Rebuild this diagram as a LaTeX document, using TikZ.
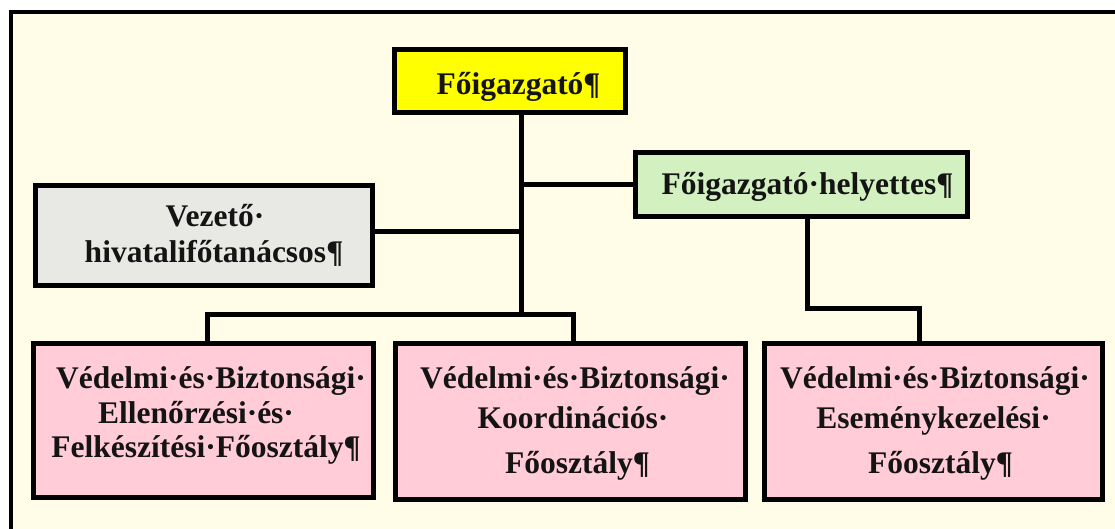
\documentclass[tikz,border=0pt]{standalone}
\usepackage{fontspec}
\setmainfont{Liberation Serif}
\definecolor{cream}{HTML}{FFFDE8}
\definecolor{yellowc}{HTML}{FFFF00}
\definecolor{greyc}{HTML}{E8E8E4}
\definecolor{greenc}{HTML}{D2F0C0}
\definecolor{pinkc}{HTML}{FFCCD8}
\definecolor{inkc}{HTML}{141414}
\tikzset{
  box/.style={draw=black, line width=5pt, line join=miter, inner sep=0pt},
  txt/.style={anchor=base, inner sep=0pt, text=inkc, font=\bfseries\fontsize{31.5}{35}\selectfont},
  conn/.style={draw=black, line width=5pt, line join=miter},
}
\begin{document}
\begin{tikzpicture}[x=1pt,y=-1pt]
\useasboundingbox (0,0) rectangle (1115,529);
\fill[white] (0,0) rectangle (1115,529);
\fill[cream] (11,12) rectangle (1125,540);
\draw[line width=4pt, line join=miter] (11,545) -- (11,12) -- (1125,12);

\node[box, fill=yellowc, minimum width=231pt, minimum height=63pt] (top) at (510,81) {};
\node[box, fill=greyc, minimum width=337pt, minimum height=100pt] (grey) at (204,235.5) {};
\node[box, fill=greenc, minimum width=332pt, minimum height=64pt] (green) at (801.5,184.5) {};
\node[box, fill=pinkc, minimum width=340pt, minimum height=154pt] (p1) at (203.5,420.5) {};
\node[box, fill=pinkc, minimum width=350pt, minimum height=156pt] (p2) at (570.5,421.5) {};
\node[box, fill=pinkc, minimum width=338pt, minimum height=156pt] (p3) at (933.5,421.5) {};

\node[txt] (topt) at (518.5,95) {Főigazgató¶};
\node[txt] (greent) at (807.5,195) {Főigazgató·helyettes¶};
\node[txt] (greya) at (215,227) {Vezető·};
\node[txt] (greyb) at (214,262) {hivatalifőtanácsos¶};
\node[txt] (p1a) at (211,388) {Védelmi·és·Biztonsági·};
\node[txt] (p1b) at (196,423) {Ellenőrzési·és·};
\node[txt] (p1c) at (206,457) {Felkészítési·Főosztály¶};
\node[txt] (p2a) at (575,388) {Védelmi·és·Biztonsági·};
\node[txt] (p2b) at (573,428) {Koordinációs·};
\node[txt] (p2c) at (577.5,473) {Főosztály¶};
\node[txt] (p3a) at (935,388) {Védelmi·és·Biztonsági·};
\node[txt] (p3b) at (933.5,428) {Eseménykezelési·};
\node[txt] (p3c) at (940.5,473) {Főosztály¶};

\coordinate (j) at (521,314);
\coordinate (bl) at (207,314);
\coordinate (br) at (573.5,314);
\coordinate (gy) at (0,232);
\coordinate (g1) at (807,308);
\coordinate (g2) at (919,308);

\draw[conn] (top.south -| j) -- (j);
\draw[conn] (p1.north -| bl) -- (bl) -- (br) -- (p2.north -| br);
\draw[conn] (grey.east |- gy) -- (j |- gy);
\draw[conn] (green.west) -- (green.west -| j);
\draw[conn] (green.south -| g1) -- (g1) -- (g2) -- (p3.north -| g2);
\end{tikzpicture}
\end{document}
